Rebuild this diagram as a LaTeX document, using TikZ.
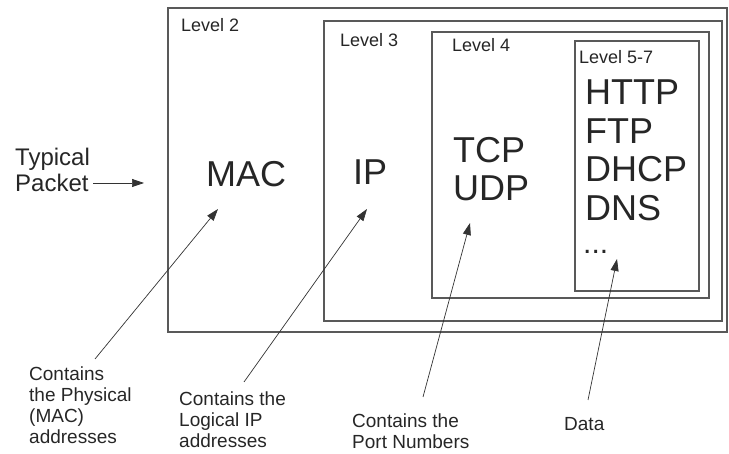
\documentclass[tikz,border=0pt]{standalone}
\usepackage{fontspec}
\setmainfont{Liberation Sans}
\usetikzlibrary{arrows.meta,positioning}

\begin{document}
\begin{tikzpicture}[
  x=1pt, y=-1pt,
  every node/.style={anchor=north west, inner sep=0pt, text=black!85},
  levelbox/.style={draw=black!65, line width=1.1pt},
  leveltag/.style={font=\fontsize{18}{20}\selectfont},
  proto/.style={align=left, font=\fontsize{36}{38.5}\selectfont},
  note/.style={align=left, font=\fontsize{19}{21}\selectfont},
  pointer/.style={draw=black!80, line width=0.7pt, -{Triangle[length=12pt,width=8pt]}}
]
\useasboundingbox (0,0) rectangle (729,454);

% nested level boxes
\draw[levelbox] (168,8) rectangle (727,332);
\draw[levelbox] (324,21) rectangle (722,321);
\draw[levelbox] (432,32) rectangle (709,298);
\draw[levelbox] (575,41) rectangle (699,291);

\node[leveltag] (l2) at (181,18) {Level 2};
\node[leveltag] (l3) at (340,33) {Level 3};
\node[leveltag] (l4) at (452,38) {Level 4};
\node[leveltag] (l57) at (579,50) {Level 5-7};

% contents of each level
\node[proto] (mac) at (206,161) {MAC};
\node[proto] (ip) at (353,160) {IP};
\node[proto] (tcp) at (453,137) {TCP\\UDP};
\node[proto] (app) at (585,80) {HTTP\\FTP\\DHCP\\DNS};
\node[font=\fontsize{30}{30}\selectfont] (dots) at (583,250) {...};

% packet label
\node[align=left, font=\fontsize{24}{25.5}\selectfont] (pkt) at (15,148) {Typical\\Packet};
\coordinate (pkt-tail) at (93,183);
\coordinate (pkt-tip) at (144,183);
\draw[pointer] (pkt-tail) -- (pkt-tip);

% notes below
\node[note] (physnote) at (29,367) {Contains\\the Physical\\(MAC)\\addresses};
\node[note] (lognote) at (179,392) {Contains the\\Logical IP\\addresses};
\node[note] (portnote) at (352,414) {Contains the\\Port Numbers};
\node[note] (datanote) at (564,417) {Data};

\coordinate (phys-tail) at (95,359);
\coordinate (phys-tip) at (218,209);
\coordinate (log-tail) at (244,382);
\coordinate (log-tip) at (367,209);
\coordinate (port-tail) at (423,397);
\coordinate (port-tip) at (470,223);
\coordinate (data-tail) at (588,400);
\coordinate (data-tip) at (617,259);

\draw[pointer] (phys-tail) -- (phys-tip);
\draw[pointer] (log-tail) -- (log-tip);
\draw[pointer] (port-tail) -- (port-tip);
\draw[pointer] (data-tail) -- (data-tip);
\end{tikzpicture}
\end{document}
